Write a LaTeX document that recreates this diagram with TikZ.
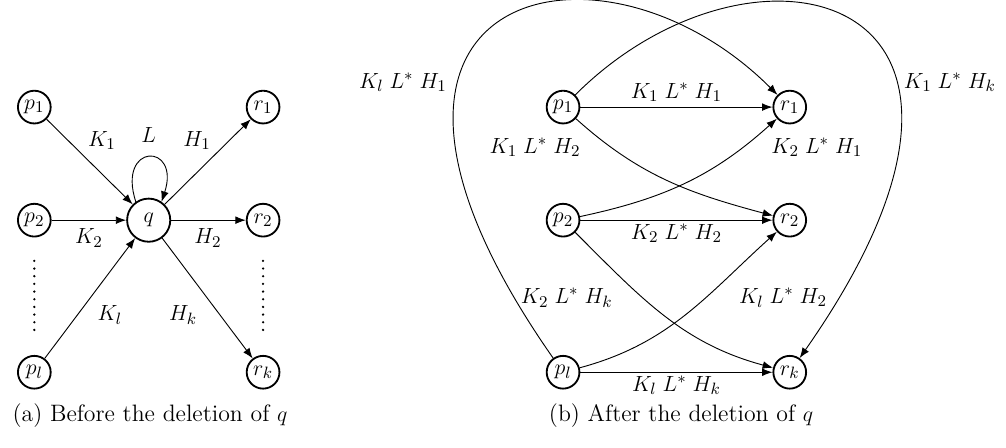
\documentclass[tikz,border=0pt]{standalone}
\usepackage{amsmath, amssymb}
\usepackage{tikz}
\usetikzlibrary{arrows.meta, positioning, calc}

\begin{document}
\begin{tikzpicture}[
    font=\fontsize{12.5}{15}\selectfont,
    state/.style={circle, draw, line width=1pt, inner sep=0pt, minimum size=0.63cm},
    bigstate/.style={state, minimum size=0.83cm},
    trans/.style={line width=0.5pt, -{Latex[length=2mm, width=1.5mm]}},
    vdots/.style={line width=1.4pt, line cap=round, dash pattern=on 0pt off 4.2pt, shorten >=0.45cm, shorten <=0.45cm},
    caption/.style={font=\fontsize{13}{15}\selectfont}
  ]
  \useasboundingbox (0,0) rectangle (19.35,8.6);

  % === Before the deletion (left) ===
  \begin{scope}[shift={(0.66,0)}]
    \node[state] (p1) at (0,6.54) {$p_1$};
    \node[state] (p2) at (0,4.365) {$p_2$};
    \node[state] (pl) at (0,1.44) {$p_l$};
    \node[bigstate] (q) at (2.2,4.365) {$q$};
    \node[state] (r1) at (4.4,6.54) {$r_1$};
    \node[state] (r2) at (4.4,4.365) {$r_2$};
    \node[state] (rk) at (4.4,1.44) {$r_k$};

    % edges into q
    \draw[trans] (p1) -- (q);
    \draw[trans] (p2) -- (q);
    \draw[trans] (pl) -- (q);
    \draw[trans] (q.125) .. controls +(108:1.2) and +(72:1.2) .. (q.55);

    % edges out of q
    \draw[trans] (q) -- (r1);
    \draw[trans] (q) -- (r2);
    \draw[trans] (q) -- (rk);

    \draw[vdots] (p2) -- (pl);
    \draw[vdots] (r2) -- (rk);

    \node (lK1) at (1.30,5.90) {$K_1$};
    \node (lL) at (2.2,6.0) {$L$};
    \node (lH1) at (3.13,5.90) {$H_1$};
    \node (lK2) at (1.05,4.02) {$K_2$};
    \node (lH2) at (3.34,4.02) {$H_2$};
    \node (lKl) at (1.455,2.54) {$K_l$};
    \node (lHk) at (2.86,2.54) {$H_k$};

    \node[caption] (capa) at (2.225,0.6) {(a) Before the deletion of $q$};
  \end{scope}

  % === After the deletion (right) ===
  \begin{scope}[shift={(10.83,0)}]
    \node[state] (s1) at (0,6.54) {$p_1$};
    \node[state] (s2) at (0,4.365) {$p_2$};
    \node[state] (sl) at (0,1.44) {$p_l$};
    \node[state] (t1) at (4.36,6.54) {$r_1$};
    \node[state] (t2) at (4.36,4.365) {$r_2$};
    \node[state] (tk) at (4.36,1.44) {$r_k$};

    % straight ones
    \draw[trans] (s1) -- (t1);
    \draw[trans] (s2) -- (t2);
    \draw[trans] (sl) -- (tk);

    % crossing ones
    \draw[trans] (s1) to[out=-42, in=165] (t2);
    \draw[trans] (s2) to[out=12, in=-138] (t1);
    \draw[trans] (s2) to[out=-45, in=165] (tk);
    \draw[trans] (sl) to[out=15, in=-138] (t2);

    % big loops
    \draw[trans] (sl) .. controls +(125:9) and +(135:5.2) .. (t1);
    \draw[trans] (s1) .. controls +(45:5.2) and +(55:9) .. (tk);

    \node (lKlH1) at (-3.08,7.02) {$K_l\;L^*\;H_1$};
    \node (lK1Hk) at (7.44,7.02) {$K_1\;L^*\;H_k$};
    \node (lK1H1) at (2.18,6.83) {$K_1\;L^*\;H_1$};
    \node (lK1H2) at (-0.54,5.77) {$K_1\;L^*\;H_2$};
    \node (lK2H1) at (4.88,5.77) {$K_2\;L^*\;H_1$};
    \node (lK2H2) at (2.18,4.12) {$K_2\;L^*\;H_2$};
    \node (lK2Hk) at (0.07,2.87) {$K_2\;L^*\;H_k$};
    \node (lKlH2) at (4.23,2.88) {$K_l\;L^*\;H_2$};
    \node (lKlHk) at (2.18,1.19) {$K_l\;L^*\;H_k$};

    \node[caption] (capb) at (2.27,0.6) {(b) After the deletion of $q$};
  \end{scope}
\end{tikzpicture}
\end{document}
